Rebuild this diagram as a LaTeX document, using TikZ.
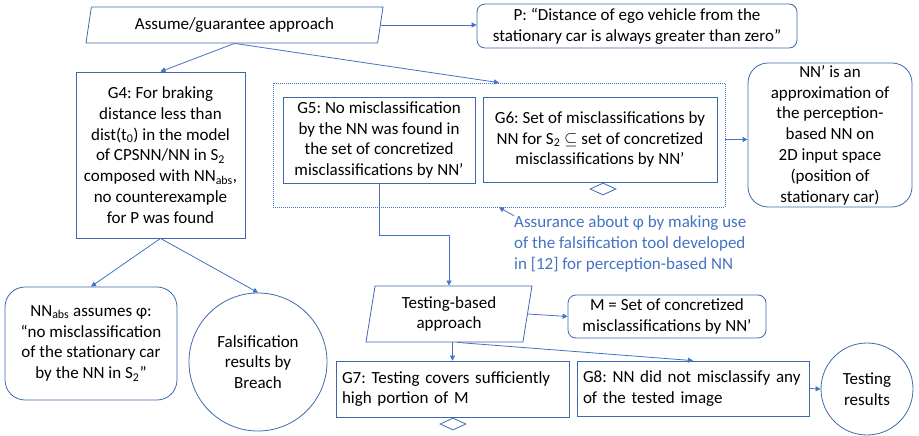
\documentclass[tikz,border=0pt]{standalone}
\usepackage{fontspec}
\setmainfont{Carlito}
\usepackage{xcolor}
\usetikzlibrary{arrows.meta,positioning,shapes.geometric,calc}
\definecolor{boxblue}{RGB}{62,104,172}
\definecolor{edgeblue}{RGB}{68,114,196}
\frenchspacing
\hyphenpenalty=10000

\begin{document}
\begin{tikzpicture}[
  x=1pt,y=-1pt,
  font=\fontsize{17}{20.8}\selectfont,
  box/.style={draw=boxblue,line width=0.8pt,align=center,inner sep=2pt},
  rbox/.style={box,rounded corners=8pt},
  para/.style={box,trapezium,trapezium stretches body},
  circ/.style={box,circle,inner sep=0pt},
  dia/.style={draw=boxblue,line width=0.8pt,diamond,inner sep=0pt,minimum width=26,minimum height=12},
  arr/.style={-{Triangle[length=5pt,width=5pt]},draw=edgeblue,line width=0.8pt}
]
\useasboundingbox (0,0) rectangle (919,436);
\node[para,trapezium left angle=74,trapezium right angle=106,minimum width=297,minimum height=36] (ag) at (234.5,25) {Assume/guarantee approach};
\node[rbox,minimum width=320,minimum height=44] (p) at (637,26) {P: “Distance of ego vehicle from the\\stationary car is always greater than zero”};
\node[box,minimum width=169,minimum height=166] (g4) at (160.5,155) {G4: For braking\\distance less than\\dist(t\textsubscript{0}) in the model\\of CPSNN/NN in S\textsubscript{2}\\composed with NN\textsubscript{abs},\\no counterexample\\for P was found};
\node[draw=edgeblue,dash pattern=on 1pt off 1pt,line width=0.7pt,minimum width=452,minimum height=124] (grp) at (499,145) {};
\node[box,minimum width=192,minimum height=86] (g5) at (379,140) {G5: No misclassification\\by the NN was found in\\the set of concretized\\misclassifications by NN’};
\node[box,minimum width=234,minimum height=85] (g6) at (600,139.5) {G6: Set of misclassifications by\\NN for S\textsubscript{2} $\subseteq$ set of concretized\\misclassifications by NN’};
\node[dia] (d6) at (603,189) {};
\node[rbox,rounded corners=20pt,minimum width=164,minimum height=144] (nnp) at (830,135) {NN’ is an\\approximation of\\the perception-\\based NN on\\2D input space\\(position of\\stationary car)};
\node[text=edgeblue,align=left,inner sep=0pt,anchor=west] (asr) at (514,244) {Assurance about φ by making use\\of the falsification tool developed\\in [12] for perception-based NN};
\node[rbox,rounded corners=20pt,minimum width=172,minimum height=113] (nab) at (91,343.5) {NN\textsubscript{abs} assumes φ:\\“no misclassification\\of the stationary car\\by the NN in S\textsubscript{2}”};
\node[circ,minimum size=138] (fal) at (258,362) {Falsification\\results by\\Breach};
\node[para,trapezium left angle=77,trapezium right angle=103,minimum width=166,minimum height=56] (tst) at (449,314) {Testing-based\\approach};
\node[rbox,minimum width=198,minimum height=43] (m) at (667,316.5) {M = Set of concretized\\misclassifications by NN’};
\node[box,align=left,text width=221,inner xsep=6pt,minimum height=56] (g7) at (452.5,389) {G7: Testing covers sufficiently\\high portion of M};
\node[dia] (d7) at (453,424) {};
\node[box,align=left,text width=220,inner xsep=6pt,minimum height=55] (g8) at (693,388.5) {G8: NN did not misclassify any\\of the tested image};
\node[circ,minimum size=92] (tr) at (867,389) {Testing\\results};
\draw[arr] (ag.east) -- (ag.east -| p.west);
\draw[arr] (ag.south) -- (g4.north);
\draw[arr] (ag.south) -- (grp.north);
\draw[arr] (g4.south) -- (nab.north);
\draw[arr] (g4.south) -- (fal.north);
\draw[arr] (g6.east -| grp.east) -- (g6.east -| nnp.west);
\draw[arr] (asr.north west) -- (grp.south);
\draw[arr] (g5.south) -- ++(0,52) -| (tst.north);
\draw[arr] (tst.east) -- (m.west);
\draw[arr] (g7.north |- tst.south) -- (g7.north);
\draw[arr] ($(tst.south)+(8,0)$) -- (g8.north);
\draw[arr] (g8.east) -- (tr.west);
\end{tikzpicture}
\end{document}
